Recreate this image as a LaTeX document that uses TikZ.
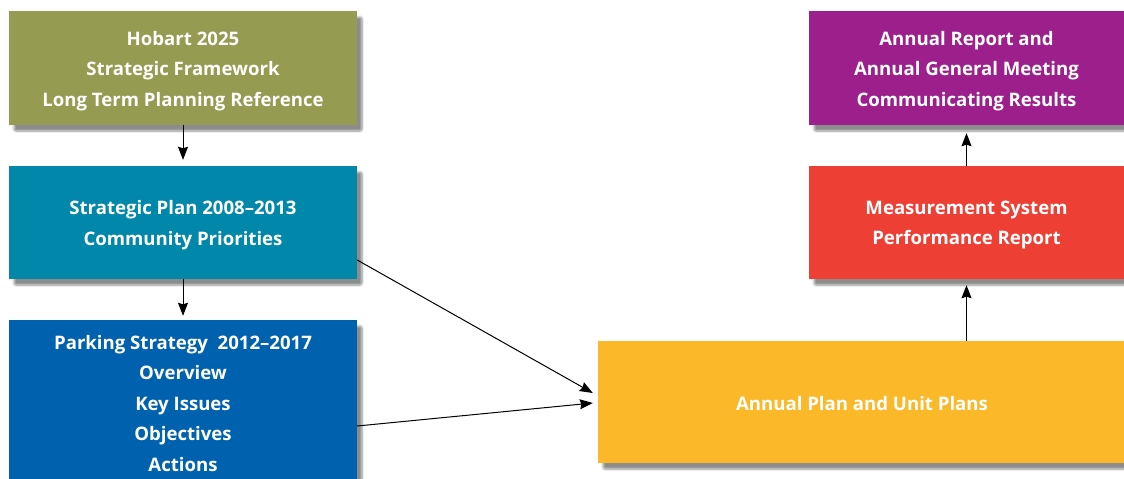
\documentclass[tikz,border=0pt]{standalone}
\usepackage{fontspec}
\setmainfont{Open Sans}
\usetikzlibrary{arrows.meta,shadows.blur}
\definecolor{cOlive}{HTML}{959B50}
\definecolor{cTeal}{HTML}{0087AA}
\definecolor{cBlue}{HTML}{0062AE}
\definecolor{cPurple}{HTML}{9D1F8C}
\definecolor{cRed}{HTML}{EE3F34}
\definecolor{cYellow}{HTML}{FBB829}
\newcommand{\boxfont}{\fontsize{18.6}{30.5}\selectfont\bfseries}
\tikzset{
  box/.style={rectangle, inner sep=0pt, align=center, text=white,
    font=\boxfont,
    blur shadow={shadow xshift=5pt, shadow yshift=-6pt, shadow blur steps=6, shadow blur extra rounding=2pt, shadow opacity=45}},
  lbl/.style={align=center, text=white, font=\boxfont, inner sep=0pt},
  conn/.style={-{Stealth[length=13pt,width=10pt,inset=1.5pt]}, line width=1pt, black}
}
\begin{document}
\begin{tikzpicture}[x=1pt,y=-1pt]
\useasboundingbox (0,0) rectangle (1124,479);
\node[box, fill=cOlive, minimum width=348pt, minimum height=114pt] (hob) at (183,68) {};
\node[lbl] (hobtxt) at (183,71) {Hobart 2025\\Strategic Framework\\Long Term Planning Reference};
\node[box, fill=cTeal, minimum width=348pt, minimum height=113pt] (strat) at (183,222.5) {};
\node[lbl] (strattxt) at (183,225) {Strategic Plan 2008--2013\\Community Priorities};
\node[box, fill=cBlue, minimum width=348pt, minimum height=170pt] (park) at (183,405) {};
\node[lbl] (parktxt) at (183,403.5) {Parking Strategy\ \ 2012--2017\\Overview\\Key Issues\\Objectives\\Actions};
\node[box, fill=cPurple, minimum width=315pt, minimum height=114pt] (rep) at (966.5,68) {};
\node[lbl] (reptxt) at (966.5,71) {Annual Report and\\Annual General Meeting\\Communicating Results};
\node[box, fill=cRed, minimum width=315pt, minimum height=113pt] (meas) at (966.5,222.5) {};
\node[lbl] (meastxt) at (966.5,225) {Measurement System\\Performance Report};
\node[box, fill=cYellow, minimum width=526pt, minimum height=122pt] (plan) at (861,402) {};
\node[lbl] (plantxt) at (862,404) {Annual Plan and Unit Plans};
\draw[conn, shorten >=6pt] (hob) -- (strat);
\draw[conn, shorten >=4pt] (strat) -- (park);
\draw[conn] ([yshift=-37.5pt]strat.east) -- ([xshift=-5pt,yshift=9pt]plan.west);
\draw[conn] ([yshift=-21pt]park.east) -- ([xshift=-5pt,yshift=-1pt]plan.west);
\draw[conn, shorten >=6pt] (plan.north -| meas) -- (meas);
\draw[conn, shorten >=8pt] (meas) -- (rep);
\end{tikzpicture}
\end{document}
